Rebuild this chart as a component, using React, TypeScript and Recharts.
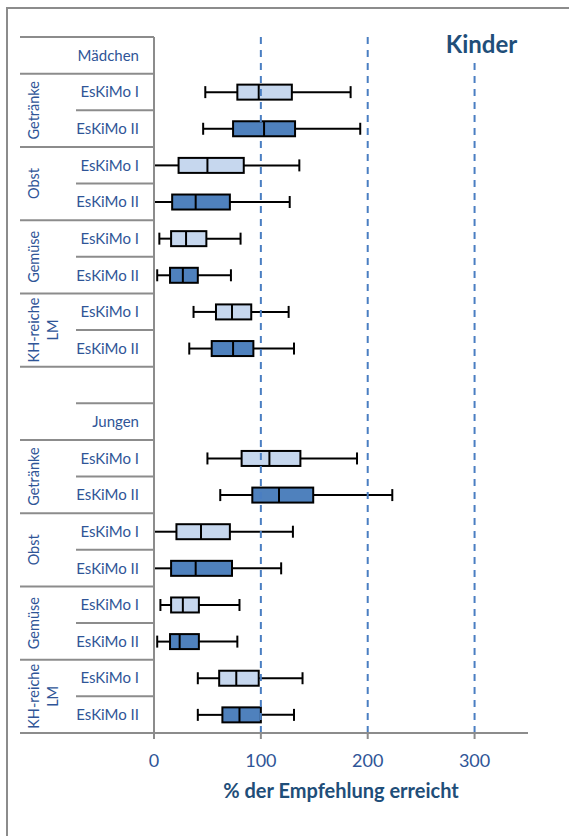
import React from 'react';
import { ComposedChart, Bar, XAxis, YAxis, ReferenceLine } from 'recharts';

// ---- data ----
const rowIds = [
  'm', 'm-g1', 'm-g2', 'm-o1', 'm-o2', 'm-v1', 'm-v2', 'm-k1', 'm-k2',
  'gap',
  'j', 'j-g1', 'j-g2', 'j-o1', 'j-o2', 'j-v1', 'j-v2', 'j-k1', 'j-k2',
];
const rowLabels = [
  'Mädchen', 'EsKiMo I', 'EsKiMo II', 'EsKiMo I', 'EsKiMo II', 'EsKiMo I', 'EsKiMo II', 'EsKiMo I', 'EsKiMo II',
  '',
  'Jungen', 'EsKiMo I', 'EsKiMo II', 'EsKiMo I', 'EsKiMo II', 'EsKiMo I', 'EsKiMo II', 'EsKiMo I', 'EsKiMo II',
];
const groupLabels = [
  '', 'Getränke', 'Getränke', 'Obst', 'Obst', 'Gemüse', 'Gemüse', 'KH-reiche LM', 'KH-reiche LM',
  '',
  '', 'Getränke', 'Getränke', 'Obst', 'Obst', 'Gemüse', 'Gemüse', 'KH-reiche LM', 'KH-reiche LM',
];
const minValues = [null, 48, 46, 0, 0, 5, 3, 37, 33, null, null, 50, 62, 0, 0, 6, 3, 41, 41];
const q1Values = [null, 78, 74, 23, 17, 16, 15, 58, 54, null, null, 82, 92, 21, 16, 16, 15, 61, 64];
const medianValues = [null, 98, 103, 50, 39, 30, 27, 73, 74, null, null, 108, 117, 44, 39, 27, 24, 77, 80];
const q3Values = [null, 129, 132, 84, 71, 49, 41, 91, 93, null, null, 137, 149, 71, 73, 42, 42, 98, 100];
const maxValues = [null, 184, 193, 136, 127, 81, 72, 126, 131, null, null, 190, 223, 130, 119, 80, 78, 139, 131];
const xTicks = [0, 100, 200, 300];
const referenceValues = [100, 200, 300];

const data = rowIds.map((id, i) => ({
  row: id,
  label: rowLabels[i],
  group: groupLabels[i],
  min: minValues[i],
  q1: q1Values[i],
  median: medianValues[i],
  q3: q3Values[i],
  max: maxValues[i],
}));

// ---- layout / style ----
const W = 569;
const H = 836;
const MARGIN = { top: 37, right: 41, bottom: 43, left: 20 };
const X_AXIS_H = 60;
const Y_AXIS_W = 134;
const PLOT_H = H - MARGIN.top - MARGIN.bottom - X_AXIS_H;
const BAND = PLOT_H / rowIds.length;
const AXIS_RIGHT = MARGIN.left + Y_AXIS_W;
const FONT = 'Lato, "Open Sans", sans-serif';
const TEXT_BLUE = '#2F5597';
const TITLE_BLUE = '#1F4E79';
const GRID_GREY = '#8C8C8C';
const LIGHT_FILL = '#C6D7EE';
const DARK_FILL = '#4F81BD';

const CategoryTick = (props: any) => {
  const { y, index } = props;
  const i = index as number;
  const top = y - BAND / 2;
  const fullTop = i === 0 || i % 2 === 1;
  const els: any[] = [];
  els.push(
    <line key="t" x1={fullTop ? MARGIN.left : 76} x2={AXIS_RIGHT} y1={top} y2={top} stroke={GRID_GREY} strokeWidth={2} />
  );
  if (i === rowIds.length - 1) {
    els.push(
      <line key="b" x1={MARGIN.left} x2={AXIS_RIGHT} y1={top + BAND} y2={top + BAND} stroke={GRID_GREY} strokeWidth={2} />
    );
  }
  if (rowLabels[i]) {
    els.push(
      <text key="l" x={139} y={y} dy="0.36em" textAnchor="end" fontSize={15} fill={TEXT_BLUE} fontFamily={FONT}>
        {rowLabels[i]}
      </text>
    );
  }
  const g = groupLabels[i];
  if (g && (i === 0 || groupLabels[i - 1] !== g)) {
    const cy = y + BAND / 2;
    const lines = g.split(' ');
    lines.forEach((ln, k) => {
      const bx = 39 + k * 19;
      els.push(
        <text
          key={'g' + k}
          transform={`translate(${bx}, ${cy}) rotate(-90)`}
          textAnchor="middle"
          fontSize={14.5}
          fill={TEXT_BLUE}
          fontFamily={FONT}
        >
          {ln}
        </text>
      );
    });
  }
  return <g>{els}</g>;
};

const BoxShape = (props: any) => {
  const { x, y, width, height, payload } = props;
  if (!payload || payload.min == null) return null;
  const k = width / (payload.max - payload.min);
  const px = (v: number) => x + (v - payload.min) * k;
  const cy = y + height / 2;
  const xMin = px(payload.min);
  const xQ1 = px(payload.q1);
  const xMed = px(payload.median);
  const xQ3 = px(payload.q3);
  const xMax = px(payload.max);
  const fill = payload.label.endsWith('II') ? DARK_FILL : LIGHT_FILL;
  const cap = 6;
  return (
    <g>
      <line x1={xMin} x2={xQ1} y1={cy} y2={cy} stroke="#000" strokeWidth={2} />
      <line x1={xQ3} x2={xMax} y1={cy} y2={cy} stroke="#000" strokeWidth={2} />
      <line x1={xMin} x2={xMin} y1={cy - cap} y2={cy + cap} stroke="#000" strokeWidth={2} />
      <line x1={xMax} x2={xMax} y1={cy - cap} y2={cy + cap} stroke="#000" strokeWidth={2} />
      <rect x={xQ1} y={y} width={xQ3 - xQ1} height={height} fill={fill} stroke="#000" strokeWidth={2} />
      <line x1={xMed} x2={xMed} y1={y} y2={y + height} stroke="#000" strokeWidth={2} />
    </g>
  );
};

const AxisTitle = (props: any) => {
  const vb = props.viewBox || { x: 154, y: 733, width: 374, height: 60 };
  return (
    <text
      x={vb.x + vb.width / 2}
      y={vb.y + 65}
      textAnchor="middle"
      fontSize={20}
      fontWeight={700}
      fill={TITLE_BLUE}
      fontFamily={FONT}
    >
      % der Empfehlung erreicht
    </text>
  );
};

export default function App() {
  return (
    <div style={{ position: 'absolute', left: 0, top: 0, width: W, height: H, overflow: 'hidden', background: '#fff' }}>
      <div
        style={{
          position: 'absolute',
          left: 6,
          top: 7,
          width: W + 20,
          height: H + 20,
          borderTop: `2px solid ${GRID_GREY}`,
          borderLeft: `2px solid ${GRID_GREY}`,
          boxSizing: 'border-box',
        }}
      />
      <div style={{ position: 'absolute', left: 0, top: 0 }}>
        <ComposedChart width={W} height={H} data={data} layout="vertical" margin={MARGIN}>
          <XAxis
            type="number"
            domain={[0, 350]}
            ticks={xTicks}
            height={X_AXIS_H}
            axisLine={{ stroke: GRID_GREY, strokeWidth: 2 }}
            tickLine={{ stroke: GRID_GREY, strokeWidth: 2 }}
            tickSize={6}
            tickMargin={15}
            tick={{ fill: TEXT_BLUE, fontSize: 18, fontFamily: FONT }}
            label={<AxisTitle />}
          />
          <YAxis
            type="category"
            dataKey="row"
            width={Y_AXIS_W}
            interval={0}
            axisLine={{ stroke: GRID_GREY, strokeWidth: 2 }}
            tickLine={false}
            tick={<CategoryTick />}
          />
          {referenceValues.map((v) => (
            <ReferenceLine key={v} x={v} stroke="#4A7EC2" strokeWidth={2} strokeDasharray="7 6" />
          ))}
          <Bar
            dataKey={(d: any) => (d.min == null ? null : [d.min, d.max])}
            barSize={15}
            shape={<BoxShape />}
            isAnimationActive={false}
          />
        </ComposedChart>
      </div>
      <svg width={W} height={H} style={{ position: 'absolute', left: 0, top: 0, pointerEvents: 'none' }}>
        <rect x={440} y={30} width={86} height={33} fill="#fff" />
        <text x={481.5} y={52.5} textAnchor="middle" fontSize={24} fontWeight={700} fill={TITLE_BLUE} fontFamily={FONT}>
          Kinder
        </text>
      </svg>
    </div>
  );
}
